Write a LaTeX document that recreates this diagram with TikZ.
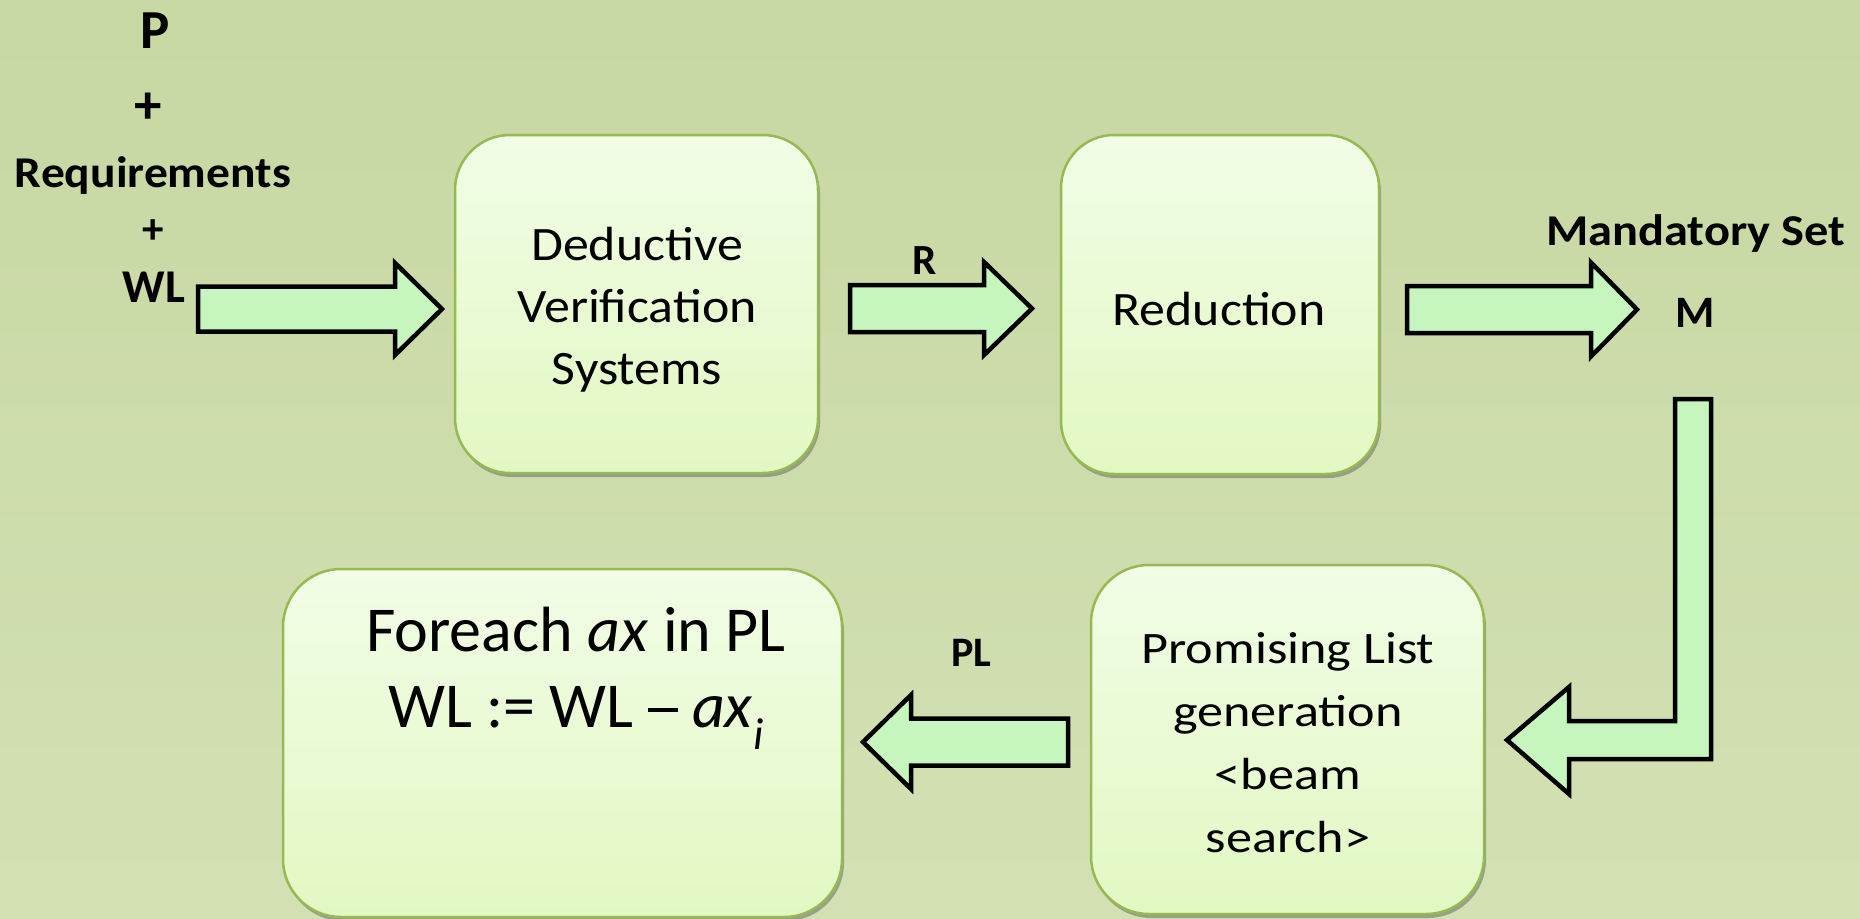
\documentclass[tikz,border=0pt]{standalone}
\usepackage{fontspec}
\usepackage{graphicx}
\setmainfont{Carlito}
\usetikzlibrary{shadows,calc}

\definecolor{bgtop}{RGB}{199,216,162}
\definecolor{bgbot}{RGB}{211,224,180}
\definecolor{boxtop}{RGB}{241,253,230}
\definecolor{boxbot}{RGB}{226,248,194}
\definecolor{boxline}{RGB}{150,185,82}
\definecolor{arrowfill}{RGB}{198,245,190}

% stacked, centred lines whose baseline is the first line's baseline
\newcommand\stk[1]{\begin{tabular}[t]{@{}c@{}}#1\end{tabular}}
\newcommand\fsz[2]{\fontsize{#1}{#2}\selectfont}
% a long minus-style dash
\newcommand\longdash{\rule[0.24em]{0.46em}{0.06em}}
% straight block arrow: tail x, head-base x, tip x, centre y, half shaft, half head
\newcommand\barrow[6]{%
  \draw[blockarrow] (#1,#4-#5) -- (#2,#4-#5) -- (#2,#4-#6) -- (#3,#4)
    -- (#2,#4+#6) -- (#2,#4+#5) -- (#1,#4+#5) -- cycle;}

\tikzset{
  procbox/.style={rectangle, inner sep=0pt, draw=boxline, line width=2.5pt,
    top color=boxtop, bottom color=boxbot,
    drop shadow={shadow xshift=2pt, shadow yshift=-4pt, fill=black!55, opacity=0.6}},
  blockarrow/.style={draw=black, line width=4.5pt, fill=arrowfill, line join=miter},
  boxtext/.style={anchor=base, inner sep=0pt, text=black},
  lbl/.style={anchor=base, inner sep=0pt, text=black, font=\bfseries},
}

\begin{document}
\begin{tikzpicture}[x=1pt, y=-1pt]
  \useasboundingbox (0,0) rectangle (1860,918);
  \shade[top color=bgtop, bottom color=bgbot] (0,0) rectangle (1860,918);

  % process boxes
  \node[procbox, minimum width=363pt, minimum height=338pt, rounded corners=55pt] (dvs) at (636.5,304) {};
  \node[procbox, minimum width=318pt, minimum height=339pt, rounded corners=53pt] (red) at (1220,304.5) {};
  \node[procbox, minimum width=393pt, minimum height=349pt, rounded corners=58pt] (plg) at (1287.5,739.5) {};
  \node[procbox, minimum width=559pt, minimum height=348pt, rounded corners=58pt] (fe) at (562.5,743) {};

  % box texts
  \node[boxtext] (dvst) at (637,260) {\fsz{48}{62}\scalebox{1.08}[1]{\stk{Deductive\\Verification\\Systems}}};
  \node[boxtext] (redt) at (1219,325) {\fsz{48}{62}\scalebox{1.08}[1]{Reduction}};
  \node[boxtext] (plgt) at (1288,663) {\fsz{45}{63}\scalebox{1.16}[1]{\stk{Promising List\\generation\\<beam\\search>}}};
  \node[boxtext] (fet) at (576,651) {\fsz{64}{76}\stk{Foreach \textit{ax} in PL\\WL := WL \longdash{} \textit{ax}\textsubscript{\raisebox{-0.12em}{\textit{i}}}}};

  % inputs
  \node[lbl] (p) at (155,48) {\fsz{55}{66}P};
  \node[lbl, anchor=center] (plus1) at (148,108) {\fsz{55}{66}+};
  \node[lbl] (req) at (153,187) {\fsz{44}{52}\scalebox{1.08}[1]{Requirements}};
  \node[lbl, anchor=center] (plus2) at (153,232) {\fsz{43}{52}+};
  \node[lbl] (wl) at (154,302) {\fsz{47}{56}WL};

  % edge labels
  \node[lbl] (rl) at (925,274) {\fsz{43}{50}R};
  \node[lbl] (ms) at (1695.5,245) {\fsz{44}{52}\scalebox{1.1}[1]{Mandatory Set}};
  \node[lbl] (m) at (1695,327) {\fsz{45}{54}M};
  \node[lbl] (pll) at (971.5,666) {\fsz{42}{50}PL};

  % block arrows
  \barrow{198}{395}{442}{309}{22.5}{46}
  \barrow{850}{984}{1032}{308.5}{23.5}{46.5}
  \barrow{1407}{1591}{1637}{309.5}{23.5}{47}
  \barrow{1068}{911}{863}{742}{23.5}{47}
  \draw[blockarrow] (1675,399) -- (1711,399) -- (1711,759) -- (1569,759) -- (1569,794)
    -- (1507,740) -- (1569,687) -- (1569,721) -- (1675,721) -- cycle;
\end{tikzpicture}
\end{document}
